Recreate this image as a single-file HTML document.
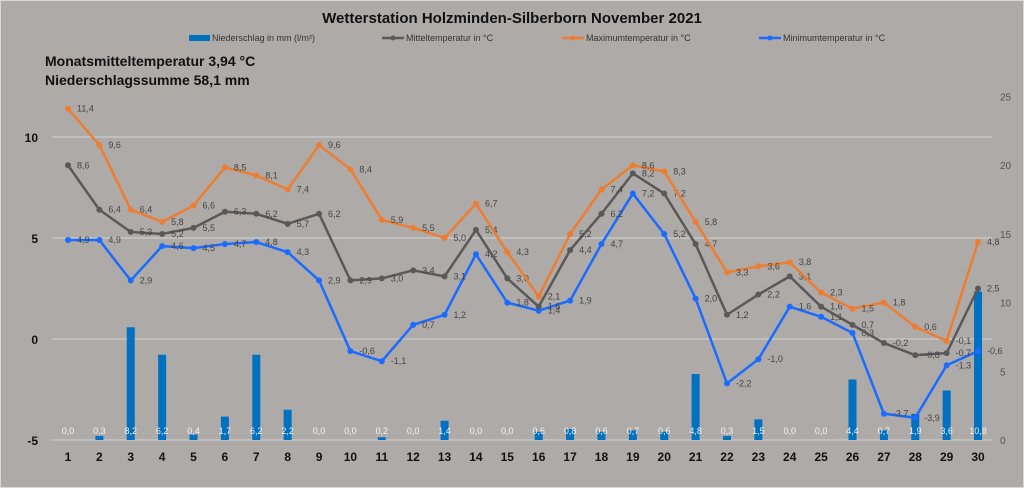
<!DOCTYPE html>
<html><head><meta charset="utf-8"><style>
html,body{margin:0;padding:0;background:#aeaaa8;}
svg{display:block;font-family:"Liberation Sans",sans-serif;}
</style></head><body>
<svg id="c" width="1024" height="488" xmlns="http://www.w3.org/2000/svg">
<rect x="0" y="0" width="1024" height="488" fill="#aeaaa8"/>
<rect x="0.5" y="0.5" width="1023" height="487" fill="none" stroke="#d8d8d8"/>
<text x="512" y="23" text-anchor="middle" font-size="15" font-weight="bold" fill="#111">Wetterstation  Holzminden-Silberborn  November 2021</text>
<rect x="189" y="35" width="21" height="6" fill="#0070c0"/>
<text x="212" y="41" font-size="9" fill="#333">Niederschlag in mm  (l/m²)</text>
<line x1="382" y1="38" x2="404" y2="38" stroke="#595959" stroke-width="2.5"/><circle cx="393" cy="38" r="2.5" fill="#595959"/>
<text x="406" y="41" font-size="9" fill="#333">Mitteltemperatur in °C</text>
<line x1="562" y1="38" x2="584" y2="38" stroke="#ed7d31" stroke-width="2.5"/><circle cx="573" cy="38" r="2.5" fill="#ed7d31"/>
<text x="586" y="41" font-size="9" fill="#333">Maximumtemperatur in °C</text>
<line x1="759" y1="38" x2="781" y2="38" stroke="#1a6bff" stroke-width="2.5"/><circle cx="770" cy="38" r="2.5" fill="#1a6bff"/>
<text x="783" y="41" font-size="9" fill="#333">Minimumtemperatur in °C</text>
<text x="45" y="66" font-size="14" font-weight="bold" fill="#111">Monatsmitteltemperatur 3,94 °C</text>
<text x="45" y="85" font-size="14" font-weight="bold" fill="#111">Niederschlagssumme 58,1 mm</text>
<g id="g"></g>
</svg>
<script>
var g=document.getElementById('g'),ns="http://www.w3.org/2000/svg",h='';
function X(i){return 68+i*31.38;}
function L(v){return 339-v*20.2;}
function R(v){return 440-v*13.75;}
function f(v){return String(v.toFixed(1)).replace('.',',');}
[10,5,0,-5].forEach(function(v){h+='<line x1="52" x2="992" y1="'+L(v)+'" y2="'+L(v)+'" stroke="#d4d4d4" stroke-width="1"/>';h+='<text x="38" y="'+(L(v)+5)+'" text-anchor="end" font-size="12" font-weight="bold" fill="#111">'+v+'</text>';});
[0,5,10,15,20,25].forEach(function(v){h+='<text x="1000" y="'+(R(v)+4)+'" font-size="10" fill="#555">'+v+'</text>';});
var P=[0,0.3,8.2,6.2,0.4,1.7,6.2,2.2,0,0,0.2,0,1.4,0,0,0.6,0.8,0.6,0.7,0.6,4.8,0.3,1.5,0,0,4.4,0.7,1.9,3.6,10.8];
var MX=[11.4,9.6,6.4,5.8,6.6,8.5,8.1,7.4,9.6,8.4,5.9,5.5,5.0,6.7,4.3,2.1,5.2,7.4,8.6,8.3,5.8,3.3,3.6,3.8,2.3,1.5,1.8,0.6,-0.1,4.8];
var MN=[8.6,6.4,5.3,5.2,5.5,6.3,6.2,5.7,6.2,2.9,3.0,3.4,3.1,5.4,3.0,1.6,4.4,6.2,8.2,7.2,4.7,1.2,2.2,3.1,1.6,0.7,-0.2,-0.8,-0.7,2.5];
var MI=[4.9,4.9,2.9,4.6,4.5,4.7,4.8,4.3,2.9,-0.6,-1.1,0.7,1.2,4.2,1.8,1.4,1.9,4.7,7.2,5.2,2.0,-2.2,-1.0,1.6,1.1,0.3,-3.7,-3.9,-1.3,-0.6];
P.forEach(function(v,i){var y=R(v);h+='<rect x="'+(X(i)-4)+'" y="'+y+'" width="8" height="'+(440-y)+'" fill="#0070c0"/>';
h+='<text x="'+X(i)+'" y="434" text-anchor="middle" font-size="9" fill="#f4f4f4">'+f(v)+'</text>';
h+='<text x="'+X(i)+'" y="461" text-anchor="middle" font-size="12" font-weight="bold" fill="#111">'+(i+1)+'</text>';});
function ser(d,c){var pts=d.map(function(v,i){return X(i)+','+L(v);}).join(' ');
h+='<polyline points="'+pts+'" fill="none" stroke="'+c+'" stroke-width="2.5" stroke-linejoin="round"/>';
d.forEach(function(v,i){h+='<circle cx="'+X(i)+'" cy="'+L(v)+'" r="3" fill="'+c+'"/>';h+='<text x="'+(X(i)+9)+'" y="'+(L(v)+3)+'" font-size="9" fill="#444">'+f(v)+'</text>';});}
ser(MI,'#1a6bff');ser(MN,'#595959');ser(MX,'#ed7d31');
g.innerHTML=h;
</script>
</body></html>
